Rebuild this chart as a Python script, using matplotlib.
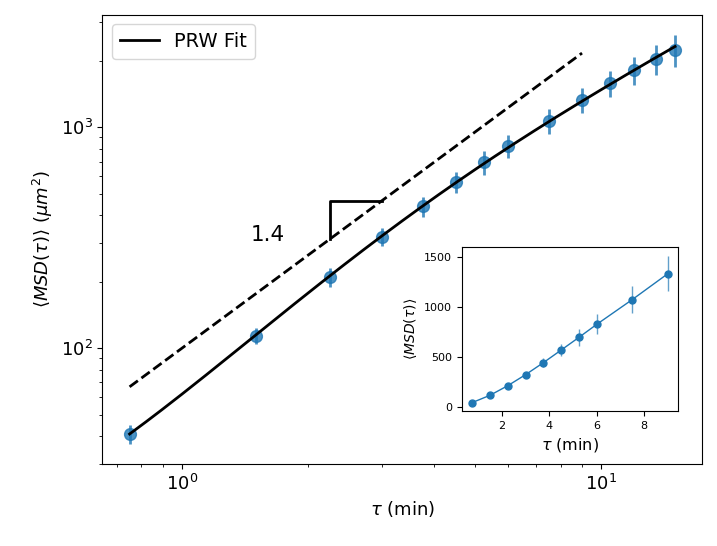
import numpy as np
import matplotlib
matplotlib.use("Agg")
import matplotlib.pyplot as plt

# ---- data ----
tau = [0.75, 1.5, 2.25, 3.0, 3.75, 4.5, 5.25, 6.0, 7.5, 9.0, 10.5, 12.0, 13.5, 15.0]
msd = [41, 114, 210, 320, 440, 566, 693, 823, 1071, 1330, 1587, 1816, 2037, 2244]
msd_err = [4, 10, 20, 30, 46, 63, 84, 100, 137, 175, 211, 261, 311, 370]

n_inset = 10            # inset shows the first 10 lags
slope_ref = 1.4         # reference power-law slope
ref_amp = 100.0         # amplitude of dashed reference line
ref_range = [0.75, 9.0]
tri_x = [2.25, 3.0]     # slope triangle corners (tau)
label_text = "1.4"

tau_a = np.array(tau)
msd_a = np.array(msd, dtype=float)
err_a = np.array(msd_err, dtype=float)

# ---- persistent random walk fit with offset (relative least squares) ----
def f_prw(t, P):
    x = t / P
    return P**2 * (x - 1 + np.exp(-x))

best = None
for P in np.linspace(0.05, 6, 2400):
    F = f_prw(tau_a, P)
    M = np.vstack([F / msd_a, 1.0 / msd_a]).T
    coef, *_ = np.linalg.lstsq(M, np.ones_like(msd_a), rcond=None)
    res = np.sum((M @ coef - 1.0) ** 2)
    if best is None or res < best[0]:
        best = (res, P, coef)
_, P_fit, (A_fit, c_fit) = best
t_fit = np.linspace(tau[0], tau[-1], 400)
msd_fit = A_fit * f_prw(t_fit, P_fit) + c_fit

fig = plt.figure(figsize=(7.17, 5.46), dpi=100)
ax = fig.add_axes([0.1427, 0.1502, 0.8368, 0.8229])

ax.errorbar(tau_a, msd_a, yerr=err_a, fmt='o', color='tab:blue', alpha=0.8,
            markersize=8.5, elinewidth=2, capsize=0, zorder=2)
ax.plot(t_fit, msd_fit, color='black', lw=2, label='PRW Fit', zorder=3)

t_ref = np.array(ref_range)
ax.plot(t_ref, ref_amp * t_ref**slope_ref, color='black', lw=2, ls='--')

y_lo = ref_amp * tri_x[0]**slope_ref
y_hi = ref_amp * tri_x[1]**slope_ref
ax.plot([tri_x[0], tri_x[0], tri_x[1]], [y_lo, y_hi, y_hi], color='black', lw=2)
ax.text(1.60, 324, label_text, fontsize=15.5, ha='center', va='center')

ax.set_xscale('log')
ax.set_yscale('log')
ax.set_xlabel(r'$\tau$ (min)', fontsize=13)
ax.set_ylabel(r'$\langle MSD(\tau) \rangle$ $(\mu m^2)$', fontsize=13)
ax.tick_params(labelsize=13)
ax.legend(loc='upper left', fontsize=14, handlelength=2)

# ---- inset ----
axin = fig.add_axes([0.6444, 0.2473, 0.3012, 0.3003])
axin.errorbar(tau_a[:n_inset], msd_a[:n_inset], yerr=err_a[:n_inset], fmt='-o',
              color='tab:blue', markersize=5, lw=1, elinewidth=1,
              ecolor=(0.12, 0.47, 0.71, 0.7), capsize=0)
axin.set_xlim(0.32, 9.43)
axin.set_ylim(-43, 1597)
axin.set_xticks([2, 4, 6, 8])
axin.set_yticks([0, 500, 1000, 1500])
axin.tick_params(labelsize=8)
axin.set_xlabel(r'$\tau$ (min)', fontsize=11.5)
axin.set_ylabel(r'$\langle MSD(\tau) \rangle$', fontsize=10)

fig.savefig('out.png', dpi=100)
